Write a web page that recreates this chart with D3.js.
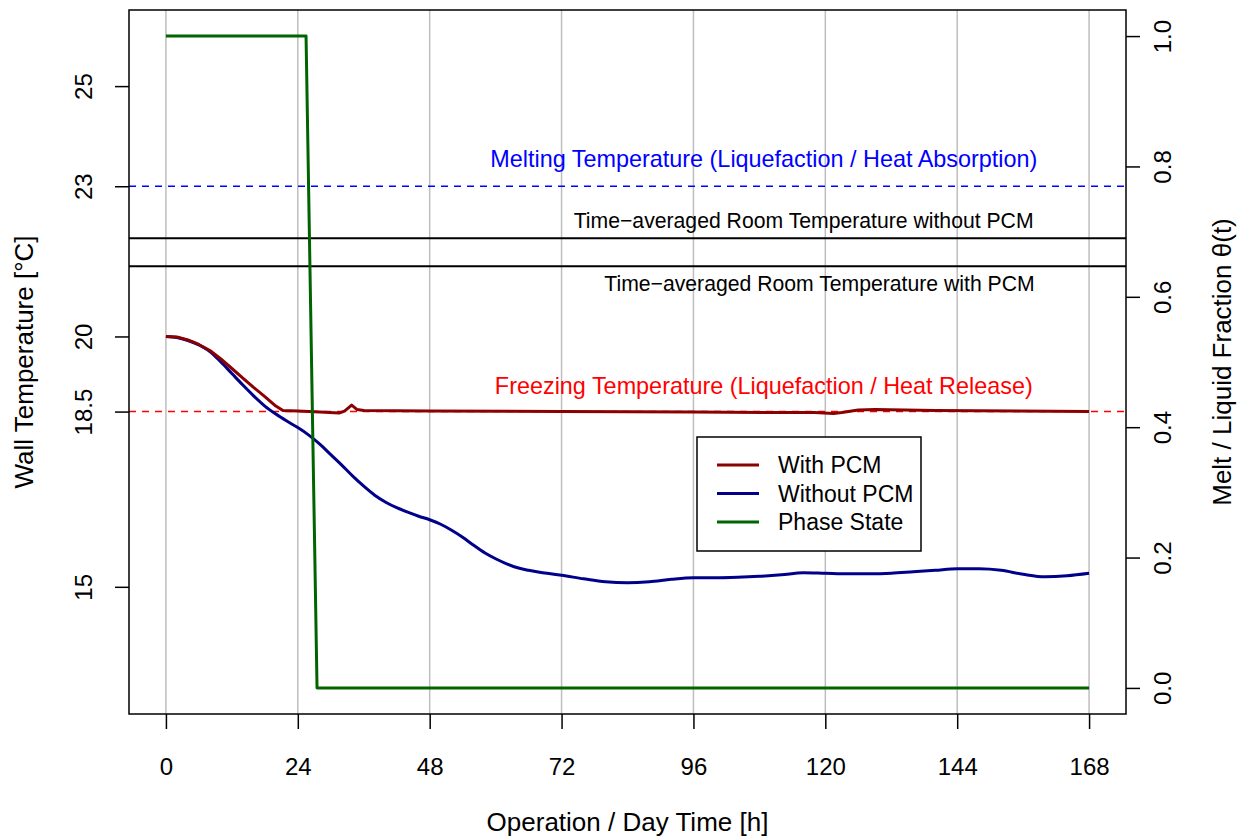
<!DOCTYPE html>
<html>
<head>
<meta charset="utf-8">
<script src="https://cdn.jsdelivr.net/npm/d3@7/dist/d3.min.js"></script>
<style>
  html, body { margin: 0; padding: 0; background: #fff; }
  svg { display: block; font-family: "Liberation Sans", Arial, Helvetica, sans-serif; }
</style>
</head>
<body>
<svg id="chart" width="1250" height="837"></svg>
<script>
// ---- data ----
const xTicks = [0, 24, 48, 72, 96, 120, 144, 168];
const yLeftTicks = [15, 18.5, 20, 23, 25];
const yRightTicks = [0.0, 0.2, 0.4, 0.6, 0.8, 1.0];

const blueHours = [0, 2, 4, 6, 8, 10, 12, 14, 16, 18, 20, 22, 24, 26, 28, 30, 32, 34, 36, 38, 40, 42, 44, 46, 48, 50, 52, 54, 56, 58, 60, 62, 64, 66, 68, 70, 72, 76, 80, 84, 88, 92, 96, 100, 104, 108, 112, 116, 120, 124, 128, 132, 136, 140, 144, 148, 152, 156, 160, 164, 168];
const withoutPCM = [20.00, 19.98, 19.92, 19.83, 19.70, 19.49, 19.26, 19.03, 18.81, 18.61, 18.45, 18.31, 18.18, 18.03, 17.85, 17.64, 17.43, 17.21, 17.01, 16.83, 16.69, 16.58, 16.49, 16.41, 16.34, 16.25, 16.13, 15.99, 15.83, 15.68, 15.56, 15.46, 15.38, 15.33, 15.29, 15.26, 15.23, 15.16, 15.10, 15.08, 15.10, 15.15, 15.18, 15.18, 15.19, 15.21, 15.24, 15.28, 15.27, 15.26, 15.26, 15.27, 15.30, 15.33, 15.36, 15.36, 15.33, 15.25, 15.20, 15.22, 15.27];

const redHours = [0, 2, 4, 6, 8, 10, 12, 14, 16, 18, 20, 21.3, 24, 28, 31.5, 32.5, 33.8, 34.8, 36, 48, 72, 96, 112, 118, 121.5, 123, 126, 129, 140, 168];
const withPCM = [20.00, 19.99, 19.93, 19.84, 19.72, 19.55, 19.36, 19.17, 18.98, 18.80, 18.61, 18.52, 18.51, 18.49, 18.47, 18.51, 18.63, 18.54, 18.52, 18.51, 18.50, 18.49, 18.48, 18.48, 18.46, 18.48, 18.53, 18.54, 18.52, 18.50];

const phaseHours = [0, 25.5, 27.5, 168];
const phaseState = [1, 1, 0, 0];

const meltingTemp = 23;
const freezingTemp = 18.5;
const roomAvgWithout = 21.96;
const roomAvgWith = 21.4;

const legendLabels = ["With PCM", "Without PCM", "Phase State"];
const seriesColors = ["#8B0000", "#00008B", "#006400"];

// ---- layout ----
const svg = d3.select("#chart");
const L = 129, R = 1126, T = 10, B = 714;
const FONT = 24;
const TITLE_FONT = 26;

const x = d3.scaleLinear().domain([-6.72, 174.72]).range([L, R]);
const yL = d3.scaleLinear().domain([12.46, 26.52]).range([B, T]);
const yR = d3.scaleLinear().domain([-0.04, 1.04]).range([B, T]);

// grid verticals
svg.append("g").selectAll("line").data(xTicks).join("line")
  .attr("x1", d => x(d)).attr("x2", d => x(d))
  .attr("y1", T).attr("y2", B)
  .attr("stroke", "#BEBEBE").attr("stroke-width", 1.5);

// reference lines
function hline(v, color, dash, w) {
  svg.append("line")
    .attr("x1", L).attr("x2", R).attr("y1", yL(v)).attr("y2", yL(v))
    .attr("stroke", color).attr("stroke-width", w)
    .attr("stroke-dasharray", dash || null);
}
hline(meltingTemp, "#0000FF", "7,6", 1.5);
hline(freezingTemp, "#FF0000", "7,6", 1.6);
hline(roomAvgWithout, "#000", null, 2);
hline(roomAvgWith, "#000", null, 2);

// series
const lineBlue = d3.line().x((d, i) => x(blueHours[i])).y(d => yL(d)).curve(d3.curveMonotoneX);
const lineRed = d3.line().x((d, i) => x(redHours[i])).y(d => yL(d)).curve(d3.curveLinear);
const lineGreen = d3.line().x((d, i) => x(phaseHours[i])).y(d => yR(d));

svg.append("path").attr("d", lineBlue(withoutPCM)).attr("fill", "none")
  .attr("stroke", seriesColors[1]).attr("stroke-width", 3).attr("stroke-linejoin", "round");
svg.append("path").attr("d", lineRed(withPCM)).attr("fill", "none")
  .attr("stroke", seriesColors[0]).attr("stroke-width", 3).attr("stroke-linejoin", "round");
svg.append("path").attr("d", lineGreen(phaseState)).attr("fill", "none")
  .attr("stroke", seriesColors[2]).attr("stroke-width", 3).attr("stroke-linejoin", "round");

// annotations
svg.append("text").attr("x", x(108.8)).attr("y", yL(23.38)).attr("text-anchor", "middle")
  .attr("fill", "#0000FF").attr("font-size", 23.4)
  .text("Melting Temperature (Liquefaction / Heat Absorption)");
svg.append("text").attr("x", x(108.8)).attr("y", yL(18.86)).attr("text-anchor", "middle")
  .attr("fill", "#FF0000").attr("font-size", 23.4)
  .text("Freezing Temperature (Liquefaction / Heat Release)");
svg.append("text").attr("x", x(157.9)).attr("y", yL(22.16)).attr("text-anchor", "end")
  .attr("fill", "#000").attr("font-size", 21.2)
  .text("Time\u2212averaged Room Temperature without PCM");
svg.append("text").attr("x", x(158.1)).attr("y", yL(20.9)).attr("text-anchor", "end")
  .attr("fill", "#000").attr("font-size", 21.2)
  .text("Time\u2212averaged Room Temperature with PCM");

// plot box
svg.append("rect").attr("x", L).attr("y", T).attr("width", R - L).attr("height", B - T)
  .attr("fill", "none").attr("stroke", "#000").attr("stroke-width", 1.5);

// x axis
const xAxis = svg.append("g").attr("transform", `translate(0,${B})`)
  .call(d3.axisBottom(x).tickValues(xTicks).tickSize(15).tickPadding(29).tickFormat(d3.format("d")));
xAxis.select(".domain").remove();
xAxis.selectAll("line").attr("stroke", "#000").attr("stroke-width", 1.5);
xAxis.selectAll("text").attr("font-size", FONT).attr("font-family", null).attr("fill", "#000");

// left axis
const yAxisL = svg.append("g").attr("transform", `translate(${L},0)`)
  .call(d3.axisLeft(yL).tickValues(yLeftTicks).tickSize(14).tickFormat(d => d === 18.5 ? "18.5" : d3.format("d")(d)));
yAxisL.select(".domain").remove();
yAxisL.selectAll("line").attr("stroke", "#000").attr("stroke-width", 1.5);
yAxisL.selectAll("text")
  .attr("font-size", FONT).attr("font-family", null).attr("fill", "#000")
  .attr("x", null).attr("dy", null)
  .attr("text-anchor", "middle")
  .attr("transform", `translate(${92 - L},0) rotate(-90)`);

// right axis
const yAxisR = svg.append("g").attr("transform", `translate(${R},0)`)
  .call(d3.axisRight(yR).tickValues(yRightTicks).tickSize(14).tickFormat(d3.format(".1f")));
yAxisR.select(".domain").remove();
yAxisR.selectAll("line").attr("stroke", "#000").attr("stroke-width", 1.5);
yAxisR.selectAll("text")
  .attr("font-size", FONT).attr("font-family", null).attr("fill", "#000")
  .attr("x", null).attr("dy", null)
  .attr("text-anchor", "middle")
  .attr("transform", `translate(${1171 - R},0) rotate(-90)`);

// axis titles
svg.append("text").attr("x", (L + R) / 2).attr("y", 831).attr("text-anchor", "middle")
  .attr("font-size", TITLE_FONT).text("Operation / Day Time [h]");
svg.append("text").attr("transform", `translate(33,${(T + B) / 2}) rotate(-90)`)
  .attr("text-anchor", "middle").attr("font-size", TITLE_FONT).text("Wall Temperature [°C]");
svg.append("text").attr("transform", `translate(1231,${(T + B) / 2}) rotate(-90)`)
  .attr("text-anchor", "middle").attr("font-size", TITLE_FONT).text("Melt / Liquid Fraction θ(t)");

// legend
const lg = svg.append("g");
lg.append("rect").attr("x", 697).attr("y", 437).attr("width", 224).attr("height", 114)
  .attr("fill", "#fff").attr("stroke", "#000").attr("stroke-width", 1.5);
const rows = lg.selectAll("g.row").data(legendLabels).join("g").attr("class", "row")
  .attr("transform", (d, i) => `translate(0,${465 + i * 28.5})`);
rows.append("line").attr("x1", 717).attr("x2", 759).attr("y1", 0).attr("y2", 0)
  .attr("stroke", (d, i) => seriesColors[i]).attr("stroke-width", 3);
rows.append("text").attr("x", 778).attr("y", 0).attr("dy", "0.35em")
  .attr("font-size", 23).text(d => d);
</script>
</body>
</html>
